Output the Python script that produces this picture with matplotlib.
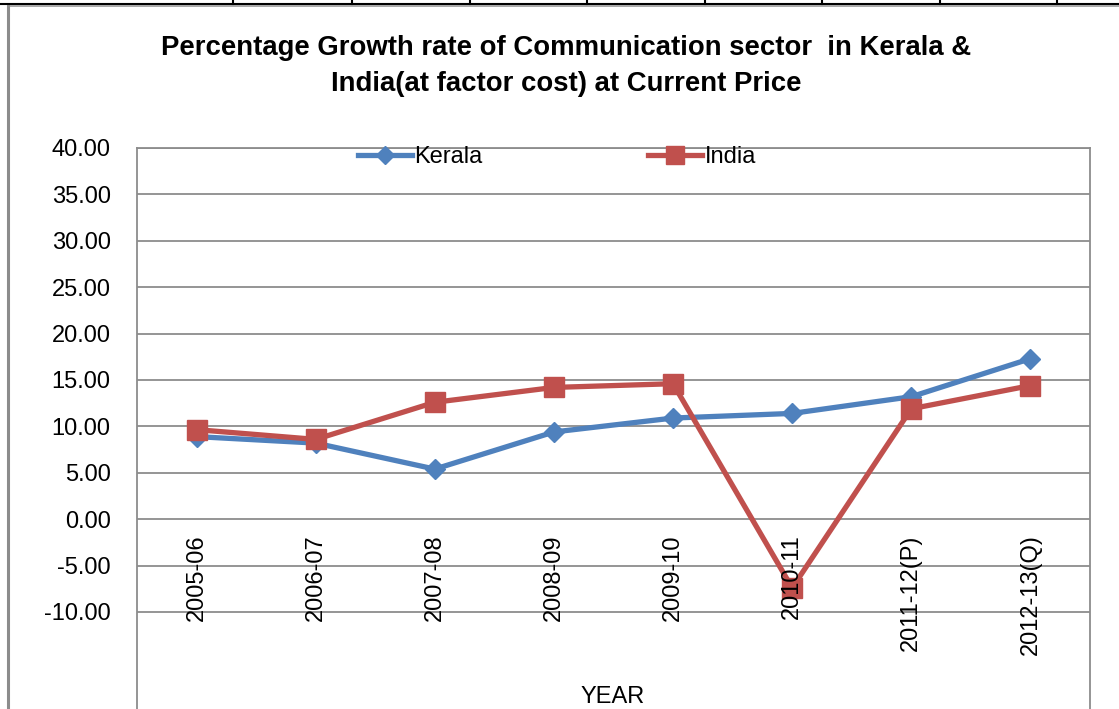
import matplotlib
matplotlib.use("Agg")
import matplotlib.pyplot as plt
from matplotlib.lines import Line2D
from matplotlib import font_manager

years = ["2005-06", "2006-07", "2007-08", "2008-09", "2009-10", "2010-11", "2011-12(P)", "2012-13(Q)"]
kerala = [8.9, 8.2, 5.4, 9.4, 10.9, 11.4, 13.2, 17.3]
india = [9.65, 8.6, 12.6, 14.2, 14.6, -7.4, 11.9, 14.4]
yticks = [-10, -5, 0, 5, 10, 15, 20, 25, 30, 35, 40]

names = {f.name for f in font_manager.fontManager.ttflist}
narrow = "Liberation Sans Narrow" if "Liberation Sans Narrow" in names else "Liberation Sans"
title_size = 18.5 if narrow == "Liberation Sans Narrow" else 19.8
plt.rcParams['font.family'] = ['Liberation Sans', 'DejaVu Sans']

W, H = 1119, 709
fig = plt.figure(figsize=(W / 100, H / 100), dpi=100)

def fx(px):
    return px / W

def fy(py):
    return 1 - py / H

ax = fig.add_axes([fx(137), 0, fx(1090) - fx(137), fy(148)])
ymin = 40 - (709 - 148) / 9.28
ax.set_ylim(ymin, 40)
ax.set_xlim(-0.5, len(years) - 0.5)

x = list(range(len(years)))
blue = "#4F81BD"
red = "#C0504D"
ax.plot(x, kerala, color=blue, lw=3.8, marker="D", ms=10, mec=blue, mfc=blue, label="Kerala", zorder=3)
ax.plot(x, india, color=red, lw=3.8, marker="s", ms=14, mec=red, mfc=red, label="India", zorder=4)

ax.set_yticks(yticks)
ax.set_yticklabels([f"{v:.2f}" for v in yticks], fontsize=17)
ax.yaxis.grid(True, color="#8C8C8C", lw=1.3)
ax.set_axisbelow(True)
ax.tick_params(axis="y", length=0, pad=19)
ax.set_xticks([])
for s in ["left", "right", "top"]:
    ax.spines[s].set_color("#8C8C8C")
    ax.spines[s].set_linewidth(1.3)
ax.spines["bottom"].set_visible(False)

for i, lab in enumerate(years):
    ax.annotate(lab, xy=(i, 0), xytext=(0, -11), textcoords="offset points",
                rotation=90, ha="center", va="top", fontsize=17, zorder=5)

fig.text(fx(566), fy(48), "Percentage Growth rate of Communication sector  in Kerala &",
         ha="center", va="center", fontsize=title_size, fontweight="bold", family=[narrow, 'DejaVu Sans'])
fig.text(fx(566), fy(84), "India(at factor cost) at Current Price",
         ha="center", va="center", fontsize=title_size, fontweight="bold", family=[narrow, 'DejaVu Sans'])

fig.text(fx(613), fy(697), "YEAR", ha="center", va="center", fontsize=17, family=[narrow, 'DejaVu Sans'])

leg = fig.legend(loc="center", bbox_to_anchor=(fx(557), fy(157)), ncol=2, frameon=False,
                 fontsize=17, handlelength=2.3, handletextpad=0.1, columnspacing=7.0,
                 markerscale=0.95)

# spreadsheet border artifacts
fig.add_artist(Line2D([0, 1], [fy(3.5), fy(3.5)], color="black", lw=1.5))
fig.add_artist(Line2D([fx(8), 1], [fy(5.5), fy(5.5)], color="#9A9A9A", lw=1.2))
fig.add_artist(Line2D([fx(8), fx(8)], [0, fy(5.5)], color="#8C8C8C", lw=2.2))
for px in [233, 352, 470, 587, 705, 822, 940, 1057]:
    fig.add_artist(Line2D([fx(px), fx(px)], [fy(0), fy(3.5)], color="black", lw=1.5))

fig.savefig("out.png", dpi=100)
